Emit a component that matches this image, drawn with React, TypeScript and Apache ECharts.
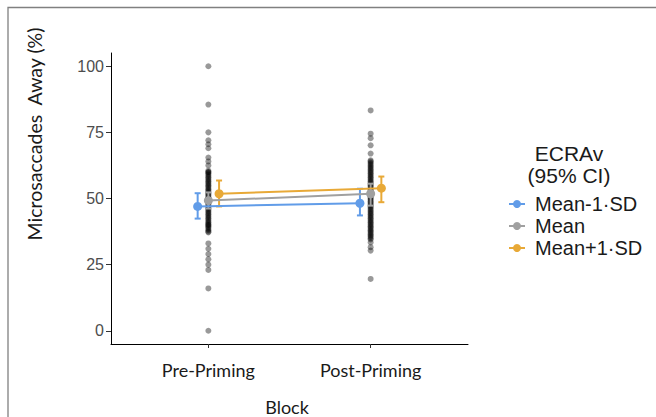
import React, { useEffect, useRef } from "react";
import * as echarts from "echarts";

const blocks = ["Pre-Priming", "Post-Priming"];
const tickValues = [0, 25, 50, 75, 100];
const groups = ["Mean-1·SD", "Mean", "Mean+1·SD"];
const groupColors = ["#619CE8", "#A0A0A0", "#E8A937"];
const dodge = [-0.066, 0, 0.066];

const prePriming = [
  100, 85.5, 75, 72, 70.5, 69, 65.5, 64, 62.5, 60.5, 60, 60, 59.5, 59, 58.5, 58, 57.5, 57, 56.5, 56,
  55.5, 55, 54.5, 54, 53.5, 53, 52.5, 52, 51.5, 51, 50.5, 50, 50, 50, 49.5, 49, 48.5, 48, 47.5, 47,
  46.5, 46, 45.5, 45, 44.5, 44, 43.5, 43, 42.5, 42, 41.5, 41, 40.5, 40, 40, 39.5, 39, 38.5, 38, 37.5,
  37.2, 33, 31, 29, 27, 25, 23, 16, 0,
];
const postPriming = [
  83.3, 74.5, 72.8, 70.1, 67, 64.4, 64, 63.5, 63, 62.5, 62, 61.5, 61, 60.5, 60, 59.5, 59, 58.5, 58,
  57.5, 57, 56.5, 56, 55.5, 55, 54.5, 54, 53.5, 53, 52.5, 52, 51.5, 51, 50.5, 50, 49.5, 49, 48.5, 48,
  47.5, 47, 46.5, 46, 45.5, 45, 44.5, 44, 43.5, 43, 42.5, 42, 41.5, 41, 40.5, 40, 39.5, 39, 38.5, 38,
  37.5, 37, 36.5, 36, 35.5, 35, 34.5, 33.4, 31.6, 30.3, 19.6,
];

const meanPre = [47.0, 49.2, 51.8];
const meanPost = [48.2, 51.8, 53.9];
const ciLowPre = [42.4, 46.2, 47.0];
const ciHighPre = [52.0, 52.3, 56.8];
const ciLowPost = [43.6, 47.3, 48.6];
const ciHighPost = [53.7, 55.6, 58.3];

export default function App() {
  const ref = useRef<HTMLDivElement>(null);
  useEffect(() => {
    document.body.style.margin = "0";
    const chart = echarts.init(ref.current!, null, { renderer: "svg" });

    const rawData: number[][] = [];
    prePriming.forEach((v) => rawData.push([1, v]));
    postPriming.forEach((v) => rawData.push([2, v]));

    const series: any[] = [
      {
        type: "scatter",
        name: "raw",
        data: rawData,
        symbolSize: 6,
        itemStyle: { color: "rgba(0,0,0,0.5)" },
        z: 1,
        silent: true,
      },
    ];

    groups.forEach((g, i) => {
      series.push({
        type: "custom",
        name: g + " CI",
        z: 3,
        data: [
          [1 + dodge[i], ciLowPre[i], ciHighPre[i]],
          [2 + dodge[i], ciLowPost[i], ciHighPost[i]],
        ],
        renderItem: (params: any, api: any) => {
          const x = api.value(0);
          const top = api.coord([x, api.value(2)]);
          const bot = api.coord([x, api.value(1)]);
          const cw = 3;
          const style = { stroke: groupColors[i], lineWidth: 2 };
          return {
            type: "group",
            children: [
              { type: "line", shape: { x1: top[0], y1: top[1], x2: bot[0], y2: bot[1] }, style },
              { type: "line", shape: { x1: top[0] - cw, y1: top[1], x2: top[0] + cw, y2: top[1] }, style },
              { type: "line", shape: { x1: bot[0] - cw, y1: bot[1], x2: bot[0] + cw, y2: bot[1] }, style },
            ],
          };
        },
      });
      series.push({
        type: "line",
        name: g,
        z: 4,
        data: [
          [1 + dodge[i], meanPre[i]],
          [2 + dodge[i], meanPost[i]],
        ],
        symbol: "circle",
        symbolSize: 9,
        lineStyle: { color: groupColors[i], width: 2 },
        itemStyle: { color: groupColors[i] },
      });
    });

    chart.setOption({
      animation: false,
      grid: { left: 111, right: 188, top: 53, bottom: 73 },
      xAxis: {
        type: "value",
        min: 0.4,
        max: 2.6,
        splitLine: { show: false },
        axisLine: { show: true, onZero: false, lineStyle: { color: "#000", width: 1 } },
        axisTick: { show: true, length: 4, customValues: [1, 2], lineStyle: { color: "#333" } },
        axisLabel: {
          customValues: [1, 2],
          formatter: (v: number) => blocks[Math.round(v) - 1] || "",
          margin: 17,
          fontFamily: "Lato",
          fontSize: 18,
          color: "#1a1a1a",
        },
      },
      yAxis: {
        type: "value",
        min: -5,
        max: 105,
        splitLine: { show: false },
        axisLine: { show: true, onZero: false, lineStyle: { color: "#000", width: 1 } },
        axisTick: { show: true, length: 5, customValues: tickValues, lineStyle: { color: "#333" } },
        axisLabel: {
          customValues: tickValues,
          margin: 7,
          fontFamily: "Liberation Sans",
          fontSize: 16,
          color: "#4D4D4D",
        },
      },
      legend: {
        data: groups,
        orient: "vertical",
        left: 503,
        top: 188,
        itemWidth: 16,
        itemHeight: 10,
        itemGap: 0,
        textStyle: {
          fontFamily: "Liberation Sans",
          fontSize: 20,
          lineHeight: 22,
          color: "#1a1a1a",
          padding: [0, 0, 0, 5],
        },
      },
      graphic: [
        {
          type: "polyline",
          shape: { points: [[8, 417], [8, 7.5], [656, 7.5]] },
          style: { stroke: "#808080", lineWidth: 1.3, fill: "none" },
        },
        {
          type: "text",
          x: 569,
          y: 153,
          style: {
            text: "ECRAv",
            align: "center",
            verticalAlign: "middle",
            fontFamily: "Liberation Sans",
            fontSize: 21,
            fill: "#1a1a1a",
          },
        },
        {
          type: "text",
          x: 569,
          y: 175,
          style: {
            text: "(95% CI)",
            align: "center",
            verticalAlign: "middle",
            fontFamily: "Liberation Sans",
            fontSize: 21,
            fill: "#1a1a1a",
          },
        },
        {
          type: "text",
          x: 34,
          y: 134,
          rotation: Math.PI / 2,
          style: {
            text: "Microsaccades  Away (%)",
            align: "center",
            verticalAlign: "middle",
            fontFamily: "Lato",
            fontSize: 19.5,
            fill: "#1a1a1a",
          },
        },
        {
          type: "text",
          x: 287,
          y: 407,
          style: {
            text: "Block",
            align: "center",
            verticalAlign: "middle",
            fontFamily: "Lato",
            fontSize: 18,
            fill: "#1a1a1a",
          },
        },
      ],
      series,
    });
    return () => chart.dispose();
  }, []);
  return <div ref={ref} style={{ width: 656, height: 417 }} />;
}
